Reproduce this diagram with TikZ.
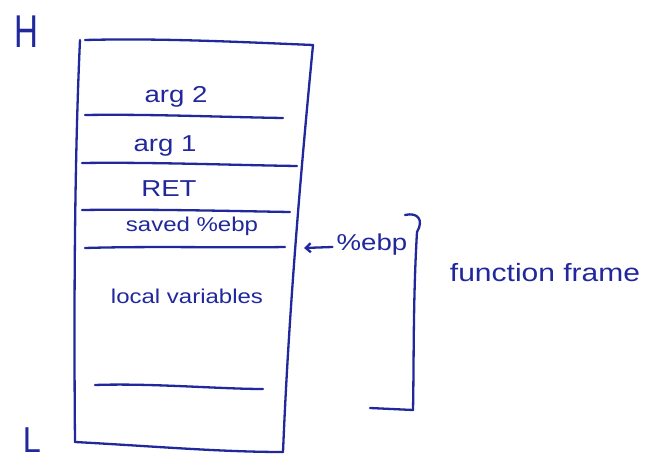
\documentclass[tikz,border=0pt]{standalone}
\usepackage{fontspec}
\setmainfont{Liberation Sans}[FakeStretch=1.2]
\usetikzlibrary{arrows.meta}
\definecolor{ink}{RGB}{32,40,155}
\tikzset{
  pen/.style={draw=ink, line width=2.3pt, line cap=round, line join=round},
  hand/.style={text=ink, inner sep=0pt, font=\fontsize{#1}{#1}\selectfont},
}
\begin{document}
\begin{tikzpicture}[x=1pt,y=-1pt]
\useasboundingbox (0,0) rectangle (650,465);
% box outline
\coordinate (tl) at (80,40);
\coordinate (tr) at (313,45);
\coordinate (br) at (283,452);
\coordinate (bl) at (75,442);
\draw[pen] (85,40) .. controls (160,38) and (240,42) .. (tr);
\draw[pen] (tr) .. controls (298,200) and (288,330) .. (br);
\draw[pen] (bl) .. controls (150,446) and (220,452) .. (br);
\draw[pen] (tl) .. controls (74,170) and (74,330) .. (bl);
% dividers
\draw[pen] (85,115) .. controls (150,114) and (220,117) .. (283,118);
\draw[pen] (82,163) .. controls (150,162) and (230,165) .. (297,166);
\draw[pen] (82,210) .. controls (150,209) and (230,211) .. (290,212);
\draw[pen] (85,248) .. controls (150,246) and (230,248) .. (285,247);
\draw[pen] (95,385) .. controls (150,383) and (220,389) .. (263,389);
% labels in cells
\node[hand=23] (arg2) at (176,97) {arg 2};
\node[hand=23] (arg1) at (165,146) {arg 1};
\node[hand=23] (ret) at (169,189) {RET};
\node[hand=20] (saved) at (192,226) {saved \%ebp};
\node[hand=20] (local) at (187,296) {local variables};
% H and L
\node[hand=46, xscale=0.6, transform shape] (H) at (26,32) {H};
\node[hand=36, xscale=0.75, transform shape] (L) at (32,440) {L};
% ebp pointer
\node[hand=23] (ebp) at (372,245) {\%ebp};
\coordinate (ptr) at (304,248);
\draw[pen, -{Straight Barb[length=5pt,width=9pt]}] (ebp.west) ++(-4,2) -- (ptr);
% brace
\coordinate (bt) at (405,215);
\coordinate (bb) at (370,408);
\draw[pen] (bt) .. controls (418,212) and (424,220) .. (417,232)
  .. controls (413,300) and (414,360) .. (413,410) -- (bb);
\node[hand=25] (ff) at (545,273) {function frame};
\end{tikzpicture}
\end{document}
